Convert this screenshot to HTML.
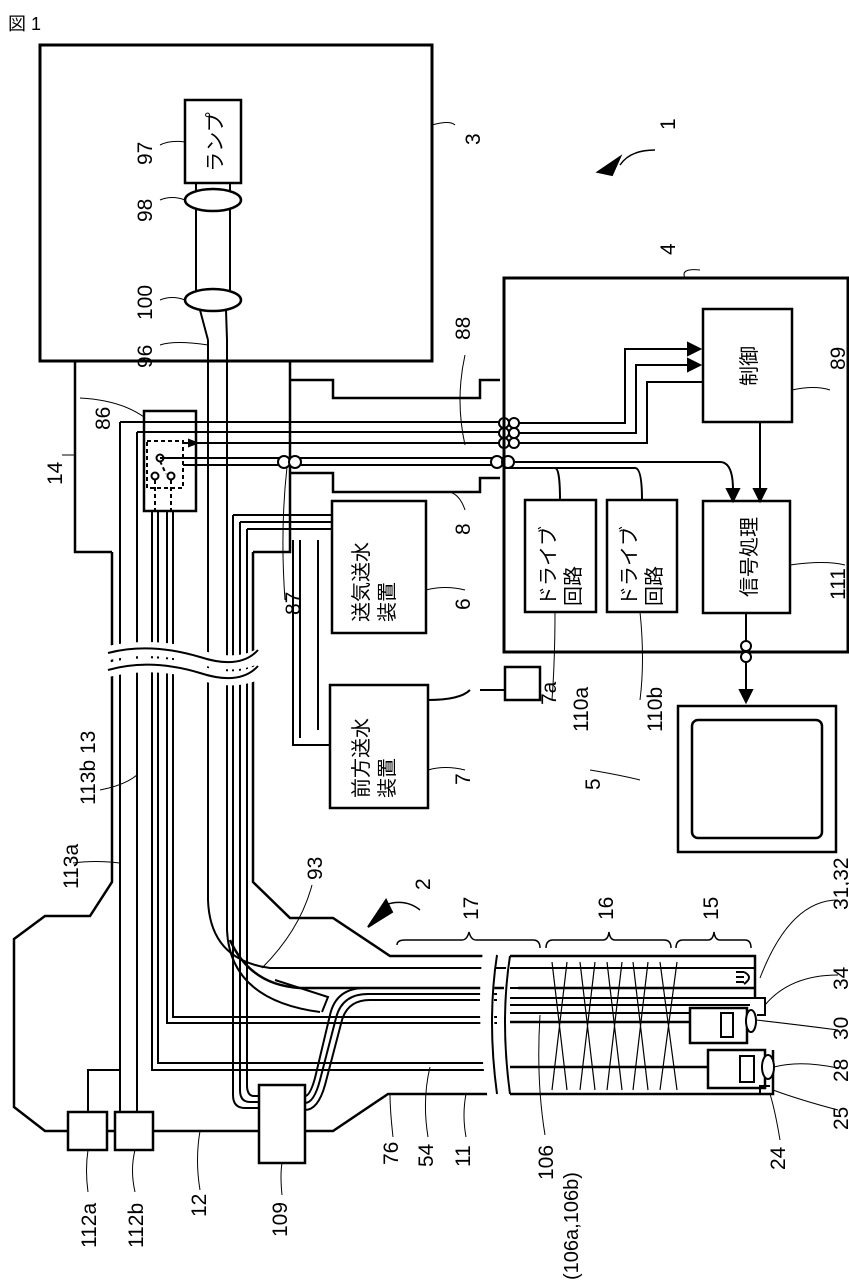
<!DOCTYPE html>
<html><head><meta charset="utf-8"><style>
html,body{margin:0;padding:0;background:#fff;width:849px;height:1286px;overflow:hidden}
svg{display:block}
text{font-family:"Liberation Sans","Noto Sans CJK JP",sans-serif;fill:#000}
.j{font-family:"Liberation Sans","Noto Sans CJK JP",sans-serif;font-size:20px}
.n{font-size:21px}
</style></head><body>
<svg width="849" height="1286" viewBox="0 0 849 1286" xmlns="http://www.w3.org/2000/svg" fill="none" stroke="#000" stroke-width="2">
<text x="8" y="30" class="j" stroke="none" style="font-size:18px">図 1</text>
<!-- light source 3 -->
<rect x="40" y="45" width="392" height="316" stroke-width="3"/>
<rect x="185" y="100" width="56" height="83" stroke-width="2.5"/>
<text transform="translate(222,142) rotate(-90)" class="j" stroke="none" text-anchor="middle">ランプ</text>
<line x1="196" y1="183" x2="196" y2="300"/><line x1="230" y1="183" x2="230" y2="300"/>
<ellipse cx="213" cy="200" rx="28" ry="11" stroke-width="2.5" fill="#fff"/>
<ellipse cx="213" cy="300" rx="28" ry="11" stroke-width="2.5" fill="#fff"/>
<path d="M200 310 L208 340 M226 310 L227 340"/>
<!-- connector 14 -->
<path d="M75 361 V552 H112 M253 552 H290 V361" stroke-width="2.5"/>
<path d="M290 380 H333 V398 H480 V380 H500 M290 473 H333 V492 H480 V478 H500" stroke-width="2.5"/>
<!-- switch 86 -->
<rect x="144" y="411" width="52" height="100" stroke-width="2.5" fill="#fff"/>
<rect x="147" y="441" width="36" height="47" stroke-dasharray="4 3"/>
<circle cx="160" cy="458" r="3.5"/><circle cx="155" cy="476" r="3.5"/><circle cx="171" cy="476" r="3.5"/>
<path d="M160 461 L166 474 M155 480 V511 M171 480 V511" stroke-dasharray="4 3"/>
<!-- signal lines -->
<path d="M120 422 H504 M137 432 H504 M183 443 H504 M160 458 H504 M183 465 H504" stroke-width="2"/>
<path d="M120 422 V1112 M137 432 V1112"/>
<path d="M504 423 H625 V349 H700 M504 433 H636 V365 H700 M504 443 H647 V382 H703"/>
<path d="M504 462 H720 Q733 462 733 490 M504 468 H555 Q560 468 560 500 M504 468 H635 Q642 468 642 500"/>
<path d="M197 443 L189 440 L189 446 Z" fill="#000"/>
<circle cx="504" cy="423" r="5" fill="#fff"/><circle cx="514" cy="423" r="5" fill="#fff"/>
<circle cx="504" cy="433" r="5" fill="#fff"/><circle cx="514" cy="433" r="5" fill="#fff"/>
<circle cx="504" cy="443" r="5" fill="#fff"/><circle cx="514" cy="443" r="5" fill="#fff"/>
<circle cx="497" cy="462" r="6" fill="#fff"/><circle cx="508" cy="462" r="6" fill="#fff"/>
<circle cx="284" cy="462" r="6" fill="#fff"/><circle cx="295" cy="462" r="6" fill="#fff"/>
<!-- box 4 -->
<rect x="504" y="278" width="344" height="374" stroke-width="3"/>
<rect x="703" y="309" width="89" height="113" stroke-width="2.5"/>
<text transform="translate(756,366) rotate(-90)" class="j" stroke="none" text-anchor="middle">制御</text>
<rect x="703" y="501" width="87" height="112" stroke-width="2.5"/>
<text transform="translate(756,557) rotate(-90)" class="j" stroke="none" text-anchor="middle">信号処理</text>
<line x1="760" y1="422" x2="760" y2="501"/>
<path d="M754 489 L760 501 L766 489 Z M727 489 L733 501 L739 489 Z M688 343 L700 349 L688 355 Z M688 359 L700 365 L688 371 Z" fill="#000"/>
<rect x="525" y="500" width="71" height="112" stroke-width="2.5"/>
<rect x="607" y="500" width="70" height="112" stroke-width="2.5"/>
<text transform="translate(555,606) rotate(-90)" class="j" stroke="none">ドライブ</text>
<text transform="translate(580,606) rotate(-90)" class="j" stroke="none">回路</text>
<text transform="translate(636,606) rotate(-90)" class="j" stroke="none">ドライブ</text>
<text transform="translate(661,606) rotate(-90)" class="j" stroke="none">回路</text>
<path d="M746 613 V700"/>
<path d="M740 690 L746 702 L752 690 Z" fill="#000"/>
<circle cx="746" cy="646" r="5" fill="#fff"/><circle cx="746" cy="657" r="5" fill="#fff"/>
<!-- monitor 5 -->
<rect x="678" y="706" width="158" height="146" stroke-width="2.5"/>
<rect x="692" y="720" width="130" height="118" rx="6" stroke-width="2.5"/>
<!-- 6 & 7 -->
<rect x="332" y="501" width="94" height="132" stroke-width="2.5"/>
<text transform="translate(368,622) rotate(-90)" class="j" stroke="none">送気送水</text>
<text transform="translate(394,622) rotate(-90)" class="j" stroke="none">装置</text>
<rect x="330" y="685" width="98" height="123" stroke-width="2.5"/>
<text transform="translate(368,798) rotate(-90)" class="j" stroke="none">前方送水</text>
<text transform="translate(394,798) rotate(-90)" class="j" stroke="none">装置</text>
<rect x="505" y="667" width="35" height="33" stroke-width="2.5"/>
<path d="M428 700 Q460 700 470 690 M480 690 H505"/>
<path d="M293 540 V745 H330 M300 540 V738 M318 540 V730"/>
<!-- light guide 96/93 -->
<path d="M208 340 V900 Q210 960 270 968 H755"/>
<path d="M227 340 V930 Q230 1000 320 1012"/>
<path d="M230 940 Q250 985 300 988 H755" stroke-width="2.5"/>
<path d="M275 980 L328 997 L322 1012"/>
<!-- tubes from 6 -->
<path d="M233 515 H332 M240 522 H332 M247 529 H332"/>
<path d="M233 515 V1095 Q233 1108 245 1108 H259 M240 522 V1090 Q240 1102 250 1102 H259 M247 529 V1085 Q247 1096 254 1096 H259"/>
<path d="M305 1110 Q318 1110 325 1085 L342 1020 Q348 1000 370 1000 H497 M305 1103 Q314 1103 320 1080 L336 1018 Q342 994 368 994 H497 M305 1096 Q310 1096 315 1078 L330 1015 Q336 988 365 988"/>
<!-- cable 13 / operation section 12 outline -->
<path d="M112 552 V882 L90 916 H45 L14 939 V1107 L45 1131 H333 L388 1094 H497" stroke-width="2.5"/>
<path d="M253 552 V882 L290 918 H333 L390 956 H497" stroke-width="2.5"/>
<path d="M152 511 V1070 H497 M158 511 V1063 H497 M167 511 V1023 H497 M173 511 V1017 H497"/>
<path d="M100 655 Q150 642 200 657 Q240 670 265 652 M100 672 Q150 658 200 673 Q240 686 265 668" stroke="#fff" stroke-width="14"/>
<path d="M108 653 Q150 642 200 657 Q240 670 258 650 M108 670 Q150 658 200 673 Q240 686 258 666"/>
<!-- 112a/b, 109 -->
<rect x="68" y="1112" width="39" height="38" stroke-width="2.5" fill="#fff"/>
<rect x="115" y="1112" width="38" height="38" stroke-width="2.5" fill="#fff"/>
<path d="M88 1112 V1070 H120"/>
<rect x="259" y="1085" width="46" height="78" stroke-width="2.5" fill="#fff"/>
<!-- insertion tube -->
<path d="M490 950 Q482 1020 495 1100 M516 950 Q503 1020 516 1100" stroke="#fff" stroke-width="14"/>
<path d="M497 955 Q487 1020 497 1094 M510 956 Q500 1020 510 1094"/>
<path d="M510 956 H755 V998 M510 1094 H773 V1050 M510 1067 H708 M510 1022 H690" stroke-width="2.5"/>
<path d="M510 968 H755 M510 988 H750 M510 998 H765 V1015 H757 M510 1005 H750 M510 1013 H700"/>
<g stroke-width="1.2"><path d="M552 962 L567 1090 M567 962 L552 1090 M580 962 L595 1090 M595 962 L580 1090 M607 962 L622 1090 M622 962 L607 1090 M633 962 L648 1090 M648 962 L633 1090 M660 962 L677 1090 M677 962 L660 1090"/></g>
<rect x="690" y="1008" width="57" height="35" stroke-width="2.5" fill="#fff"/><rect x="721" y="1013" width="12" height="24"/>
<rect x="708" y="1050" width="57" height="38" stroke-width="2.5" fill="#fff"/><rect x="740" y="1056" width="14" height="26"/>
<ellipse cx="751" cy="1021" rx="5" ry="11" fill="#fff"/><ellipse cx="768" cy="1067" rx="6" ry="12" fill="#fff"/>
<path d="M736 972 H744 M736 977 H744 M736 982 H744 M744 972 Q754 977 744 984"/>
<path d="M760 1094 V1086 H770"/>
<!-- braces -->
<path d="M397 945 Q397 940 405 940 H462 Q467 940 469 932 Q471 940 476 940 H533 Q540 940 540 948 M546 948 Q546 940 553 940 H603 Q608 940 609 932 Q610 940 615 940 H664 Q671 940 671 948 M676 948 Q676 940 683 940 H708 Q713 940 714 932 Q715 940 720 940 H745 Q751 940 751 948" stroke-width="1.5"/>
<!-- arrows 1,2 -->
<path d="M655 150 Q630 150 620 165 M420 910 Q405 898 385 905" stroke-width="1.5"/>
<path d="M598 172 L620 157 L612 175 Z M368 927 L386 900 L392 912 Z" fill="#000"/>
<!-- labels (rotated) -->
<g stroke="none" class="n" font-size="21">
<text transform="translate(152,165) rotate(-90)">97</text>
<text transform="translate(152,222) rotate(-90)">98</text>
<text transform="translate(152,320) rotate(-90)">100</text>
<text transform="translate(152,368) rotate(-90)">96</text>
<text transform="translate(480,145) rotate(-90)">3</text>
<text transform="translate(675,130) rotate(-90)">1</text>
<text transform="translate(675,255) rotate(-90)">4</text>
<text transform="translate(470,340) rotate(-90)">88</text>
<text transform="translate(845,370) rotate(-90)">89</text>
<text transform="translate(110,430) rotate(-90)">86</text>
<text transform="translate(62,485) rotate(-90)">14</text>
<text transform="translate(470,535) rotate(-90)">8</text>
<text transform="translate(300,615) rotate(-90)">87</text>
<text transform="translate(470,610) rotate(-90)">6</text>
<text transform="translate(845,600) rotate(-90)">111</text>
<text transform="translate(588,732) rotate(-90)">110a</text>
<text transform="translate(662,732) rotate(-90)">110b</text>
<text transform="translate(470,785) rotate(-90)">7</text>
<text transform="translate(556,705) rotate(-90)">7a</text>
<text transform="translate(600,790) rotate(-90)">5</text>
<text transform="translate(95,805) rotate(-90)">113b 13</text>
<text transform="translate(78,889) rotate(-90)">113a</text>
<text transform="translate(322,880) rotate(-90)">93</text>
<text transform="translate(430,890) rotate(-90)">2</text>
<text transform="translate(478,920) rotate(-90)">17</text>
<text transform="translate(613,920) rotate(-90)">16</text>
<text transform="translate(718,920) rotate(-90)">15</text>
<text transform="translate(848,910) rotate(-90)">31,32</text>
<text transform="translate(848,990) rotate(-90)">34</text>
<text transform="translate(848,1040) rotate(-90)">30</text>
<text transform="translate(848,1082) rotate(-90)">28</text>
<text transform="translate(848,1130) rotate(-90)">25</text>
<text transform="translate(785,1170) rotate(-90)">24</text>
<text transform="translate(96,1248) rotate(-90)">112a</text>
<text transform="translate(143,1248) rotate(-90)">112b</text>
<text transform="translate(206,1217) rotate(-90)">12</text>
<text transform="translate(287,1237) rotate(-90)">109</text>
<text transform="translate(398,1165) rotate(-90)">76</text>
<text transform="translate(433,1167) rotate(-90)">54</text>
<text transform="translate(470,1167) rotate(-90)">11</text>
<text transform="translate(553,1180) rotate(-90)">106</text>
<text transform="translate(578,1280) rotate(-90)" font-size="20">(106a,106b)</text>
</g>
<!-- leader lines -->
<path d="M160 145 Q170 140 185 142 M160 200 Q172 195 185 200 M160 300 Q172 295 185 300 M160 345 Q175 340 208 345 M432 125 Q450 120 455 125 M700 270 Q680 268 685 278 M830 390 Q815 385 792 390 M80 398 Q120 400 144 417 M62 455 Q70 455 75 455 M465 355 Q455 400 465 445 M465 510 Q460 495 450 492 M285 600 Q280 530 287 467 M465 590 Q445 585 426 590 M845 565 Q825 560 790 565 M552 700 Q555 660 555 612 M640 700 Q645 660 640 612 M465 770 Q445 765 428 770 M590 770 Q620 775 640 780 M73 863 Q95 860 120 863 M100 790 Q125 785 137 775 M312 885 Q300 930 262 968 M838 900 Q790 900 760 978 M838 975 Q790 975 765 1005 M838 1030 Q800 1025 756 1020 M838 1068 Q800 1060 774 1067 M838 1110 Q800 1100 773 1090 M780 1140 Q775 1110 770 1094 M88 1192 Q85 1170 88 1150 M135 1192 Q130 1170 135 1150 M200 1190 Q195 1160 200 1131 M282 1195 Q280 1175 282 1163 M393 1137 Q390 1110 390 1094 M428 1137 Q422 1100 430 1067 M466 1137 Q462 1115 466 1094 M545 1135 Q536 1080 540 1015" stroke-width="1"/>
</svg>
</body></html>
